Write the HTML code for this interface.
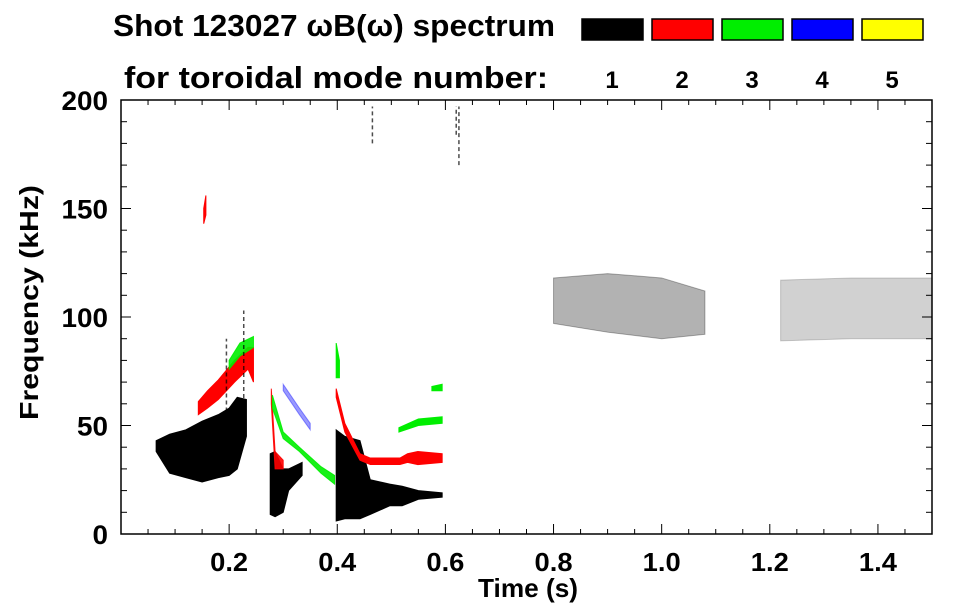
<!DOCTYPE html>
<html><head><meta charset="utf-8"><style>
html,body{margin:0;padding:0;background:#fff;}
svg{display:block;font-family:"Liberation Sans",Arial,sans-serif;font-weight:bold;}
</style></head><body>
<svg id="chart" width="963" height="615" viewBox="0 0 963 615" xmlns="http://www.w3.org/2000/svg">
<g>
<text x="113" y="36" font-size="31" textLength="442" lengthAdjust="spacingAndGlyphs">Shot 123027 ωB(ω) spectrum</text>
<text x="124" y="88" font-size="31" textLength="424" lengthAdjust="spacingAndGlyphs">for toroidal mode number:</text>
</g>
<g id="plot"></g>
<g id="axes"></g>
<text x="478" y="597" font-size="26" textLength="100" lengthAdjust="spacingAndGlyphs">Time (s)</text>
<text transform="translate(38,420) rotate(-90)" font-size="26" textLength="235" lengthAdjust="spacingAndGlyphs">Frequency (kHz)</text>
</svg>
<script>
// ---- data (time s, frequency kHz) ----
const modes = ["1","2","3","4","5"];
const modeColors = ["#000000","#ff0000","#00ee00","#0000ff","#ffff00"];
const xTicks = [0.2,0.4,0.6,0.8,1.0,1.2,1.4];
const xTickLabels = ["0.2","0.4","0.6","0.8","1.0","1.2","1.4"];
const yTicks = [0,50,100,150,200];
const yTickLabels = ["0","50","100","150","200"];
// mode 1 (black) bands
const b1_t  = [0.065,0.09,0.12,0.15,0.18,0.20,0.215,0.232];
const b1_lo = [38,28,26,24,26,27,30,45];
const b1_hi = [43,46,48,52,55,58,63,62];
const b2_t  = [0.276,0.285,0.30,0.31,0.335];
const b2_lo = [9,8,10,20,27];
const b2_hi = [37,38,30,30,33];
const b3_t  = [0.398,0.414,0.442,0.461,0.497,0.52,0.55,0.594];
const b3_lo = [6,7,7,9,13,13,16,17];
const b3_hi = [48,45,43,25,23,22,20,19];
const b4_t  = [0.80,0.90,1.00,1.08];
const b4_lo = [97,93,90,92];
const b4_hi = [118,120,118,112];
const b5_t  = [1.22,1.35,1.50];
const b5_lo = [89,90,90];
const b5_hi = [117,118,118];
// thin black streaks: time, low, high
const s1_t  = [0.195,0.227,0.62,0.625,0.465];
const s1_lo = [50,53,184,170,180];
const s1_hi = [90,103,197,197,197];
// mode 2 (red)
const r1_t  = [0.143,0.16,0.18,0.21,0.235,0.245];
const r1_lo = [55,58,62,70,76,70];
const r1_hi = [61,66,71,80,86,86];
const r2_t  = [0.398,0.414,0.442,0.461,0.516,0.53,0.549,0.594];
const r2_lo = [63,47,34,32,32,33,32,33];
const r2_hi = [67,51,37,35,35,37,38,37];
const r3_t  = [0.278,0.285,0.30];
const r3_lo = [60,30,30];
const r3_hi = [67,38,34];
const r4_t  = [0.153,0.157];
const r4_lo = [143,147];
const r4_hi = [150,156];
// mode 3 (green)
const g1_t  = [0.20,0.22,0.245];
const g1_lo = [76,82,86];
const g1_hi = [80,88,91];
const g2_t  = [0.28,0.30,0.33,0.37,0.395];
const g2_lo = [58,44,38,28,23];
const g2_hi = [64,47,40,31,27];
const g3_t  = [0.398,0.404];
const g3_lo = [72,72];
const g3_hi = [88,80];
const g4_t  = [0.514,0.55,0.594];
const g4_lo = [47,50,51];
const g4_hi = [49,53,54];
const g5_t  = [0.575,0.594];
const g5_lo = [66,66];
const g5_hi = [68,69];
// mode 4 (blue)
const u1_t  = [0.30,0.33,0.35];
const u1_lo = [66,55,48];
const u1_hi = [69,58,51];

const bands = [
 [b1_t,b1_lo,b1_hi,0,1],[b2_t,b2_lo,b2_hi,0,1],[b3_t,b3_lo,b3_hi,0,1],
 [b4_t,b4_lo,b4_hi,0,0.3],[b5_t,b5_lo,b5_hi,0,0.18],
 [r1_t,r1_lo,r1_hi,1,1],[r2_t,r2_lo,r2_hi,1,1],[r3_t,r3_lo,r3_hi,1,0.9],[r4_t,r4_lo,r4_hi,1,1],
 [g1_t,g1_lo,g1_hi,2,0.9],[g2_t,g2_lo,g2_hi,2,0.9],[g3_t,g3_lo,g3_hi,2,1],[g4_t,g4_lo,g4_hi,2,1],[g5_t,g5_lo,g5_hi,2,1],
 [u1_t,u1_lo,u1_hi,3,0.4]
];

const L=121,R=932,T=100,B=534;
const xs=t=>L+(t-0)/(1.5-0)*(R-L);
const ys=f=>B-(f-0)/(200-0)*(B-T);
const NS="http://www.w3.org/2000/svg";
function mk(tag,attrs,parent){const e=document.createElementNS(NS,tag);for(const k in attrs)e.setAttribute(k,attrs[k]);parent.appendChild(e);return e;}
const svg=document.getElementById('chart');
const plot=document.getElementById('plot');
const axes=document.getElementById('axes');

// legend boxes
modes.forEach((m,i)=>{
  const x=582+i*70;
  const r=mk('rect',{x:x,y:19,width:61,height:21,fill:modeColors[i],stroke:'#000','stroke-width':1.5},svg);
  
  
  const tx=mk('text',{x:x+30,y:88,'font-size':24,'text-anchor':'middle'},svg);
  tx.textContent=m;
  
  
});

// bands
bands.forEach((bd,i)=>{
  const [t,lo,hi,mi,op]=bd;
  let pts=[];
  for(let k=0;k<t.length;k++)pts.push(xs(t[k])+','+ys(hi[k]));
  for(let k=t.length-1;k>=0;k--)pts.push(xs(t[k])+','+ys(lo[k]));
  const p=mk('polygon',{points:pts.join(' '),fill:modeColors[mi],'fill-opacity':op,stroke:modeColors[mi],'stroke-width':1,'stroke-opacity':op},plot);
  
  
});
s1_t.forEach((t,i)=>{
  const l=mk('line',{x1:xs(t),x2:xs(t),y1:ys(s1_lo[i]),y2:ys(s1_hi[i]),stroke:'#000','stroke-width':1.5,'stroke-dasharray':'4 3','stroke-opacity':0.7},plot);
  
  
});

// frame
const fr=mk('rect',{x:L,y:T,width:R-L,height:B-T,fill:'none',stroke:'#000','stroke-width':1.5},axes);


for(let k=1;k<30;k++){
  const v=k*0.05, x=xs(v), major=(k%4===0);
  const len=major?10:5;
  mk('line',{x1:x,y1:B,x2:x,y2:B-len,stroke:'#000','stroke-width':1},axes);
  mk('line',{x1:x,y1:T,x2:x,y2:T+len,stroke:'#000','stroke-width':1},axes);
}
xTicks.forEach((v,i)=>{
  const tx=mk('text',{x:xs(v)-19,y:571,'font-size':26,textLength:38,lengthAdjust:'spacingAndGlyphs'},axes);
  tx.textContent=xTickLabels[i];
  
  
});
for(let k=1;k<20;k++){
  const v=k*10, y=ys(v), major=(k%5===0);
  const len=major?10:6;
  mk('line',{x1:L,y1:y,x2:L+len,y2:y,stroke:'#000','stroke-width':1},axes);
  mk('line',{x1:R,y1:y,x2:R-len,y2:y,stroke:'#000','stroke-width':1},axes);
}
yTicks.forEach((v,i)=>{
  const w=yTickLabels[i].length*15.5;
  const tx=mk('text',{x:108-w,y:ys(v)+10,'font-size':27,textLength:w,lengthAdjust:'spacingAndGlyphs'},axes);
  tx.textContent=yTickLabels[i];
  
  
});
</script>
</body></html>
